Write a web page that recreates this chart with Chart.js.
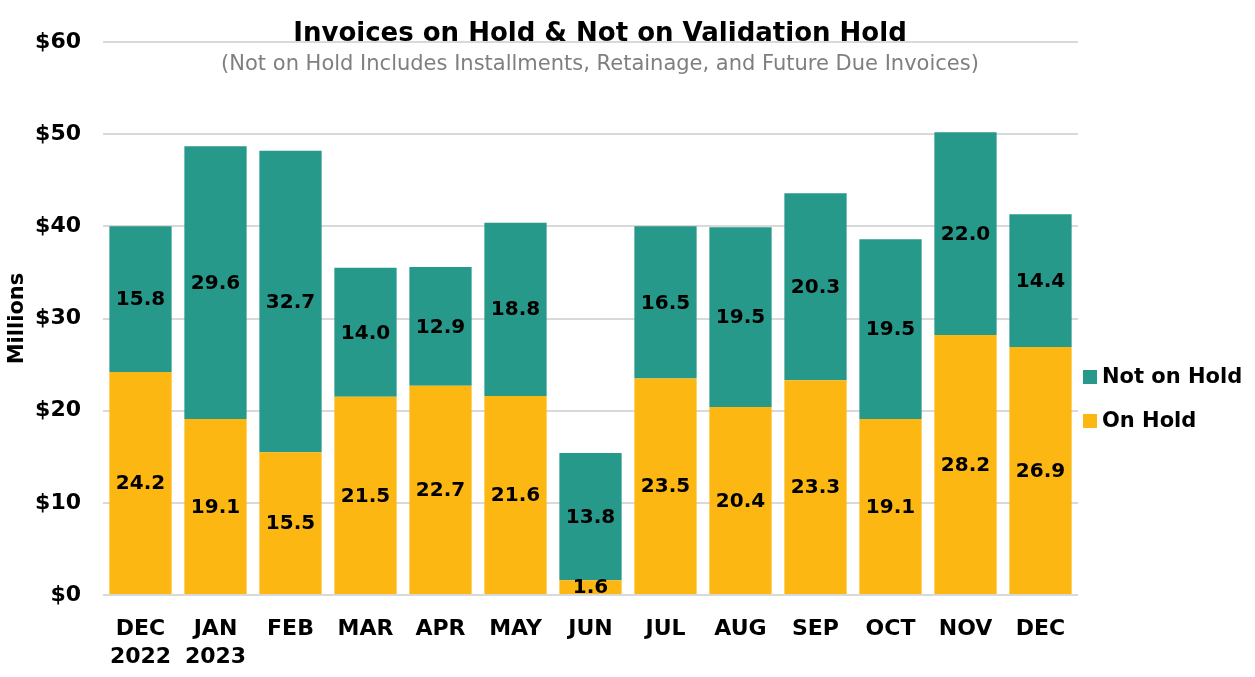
<!DOCTYPE html>
<html>
<head>
<meta charset="utf-8">
<script src="https://cdn.jsdelivr.net/npm/chart.js@4.4.1/dist/chart.umd.min.js"></script>
<style>
  html, body { margin: 0; padding: 0; background: #fff; }
  #wrap { width: 1255px; height: 677px; }
</style>
</head>
<body>
<div id="wrap"><canvas id="c"></canvas></div>
<script>
const months = [['DEC', '2022'], ['JAN', '2023'], 'FEB', 'MAR', 'APR', 'MAY', 'JUN', 'JUL', 'AUG', 'SEP', 'OCT', 'NOV', 'DEC'];
const onHold = [24.2, 19.1, 15.5, 21.5, 22.7, 21.6, 1.6, 23.5, 20.4, 23.3, 19.1, 28.2, 26.9];
const notOnHold = [15.8, 29.6, 32.7, 14.0, 12.9, 18.8, 13.8, 16.5, 19.5, 20.3, 19.5, 22.0, 14.4];
const yMax = 60;
const yStep = 10;

const FONT = '"DejaVu Sans", sans-serif';
const GREEN = '#26998a';
const YELLOW = '#fdb713';

// titles sit over the top of the plot, so draw them by hand
const titlePlugin = {
  id: 'titles',
  afterDraw(chart) {
    const ctx = chart.ctx;
    ctx.save();
    ctx.textAlign = 'center';
    ctx.textBaseline = 'middle';
    ctx.fillStyle = '#000';
    ctx.font = 'bold 26px ' + FONT;
    ctx.fillText('Invoices on Hold & Not on Validation Hold', 600, 34);
    ctx.fillStyle = '#7f7f7f';
    ctx.font = '21px ' + FONT;
    ctx.fillText('(Not on Hold Includes Installments, Retainage, and Future Due Invoices)', 600, 65);
    ctx.restore();
  }
};

// legend on the right, lower than centre, top item = last dataset
const legendPlugin = {
  id: 'sideLegend',
  afterDraw(chart) {
    const ctx = chart.ctx;
    const x = chart.chartArea.right + 5;
    const items = chart.data.datasets.slice().reverse();
    ctx.save();
    ctx.textAlign = 'left';
    ctx.textBaseline = 'middle';
    ctx.font = 'bold 21px ' + FONT;
    items.forEach((ds, i) => {
      const y = 377 + i * 44;
      ctx.fillStyle = ds.backgroundColor;
      ctx.fillRect(x, y - 7, 14, 14);
      ctx.fillStyle = '#000';
      ctx.fillText(ds.label, x + 19, y + 1);
    });
    ctx.restore();
  }
};

// value in the middle of each segment
const valueLabels = {
  id: 'valueLabels',
  afterDatasetsDraw(chart) {
    const ctx = chart.ctx;
    ctx.save();
    ctx.textAlign = 'center';
    ctx.textBaseline = 'middle';
    ctx.fillStyle = '#000';
    ctx.font = 'bold 20px ' + FONT;
    chart.data.datasets.forEach((ds, i) => {
      chart.getDatasetMeta(i).data.forEach((bar, j) => {
        const mid = (bar.y + bar.base) / 2;
        ctx.fillText(ds.data[j].toFixed(1), bar.x, mid + 1);
      });
    });
    ctx.restore();
  }
};

new Chart(document.getElementById('c'), {
  type: 'bar',
  data: {
    labels: months,
    datasets: [
      {label: 'On Hold', data: onHold, backgroundColor: YELLOW},
      {label: 'Not on Hold', data: notOnHold, backgroundColor: GREEN}
    ]
  },
  options: {
    responsive: true,
    maintainAspectRatio: false,
    animation: false,
    events: [],
    layout: {padding: {top: 42, right: 177, left: 0, bottom: 0}},
    datasets: {bar: {categoryPercentage: 0.83, barPercentage: 1}},
    scales: {
      x: {
        stacked: true,
        grid: {display: false},
        border: {display: false},
        ticks: {color: '#000', font: {family: FONT, size: 22, weight: 'bold', lineHeight: 1.25}, padding: 13, maxRotation: 0},
        afterFit: (s) => { s.height = 82; }
      },
      y: {
        stacked: true,
        min: 0,
        max: yMax,
        ticks: {stepSize: yStep, color: '#000', padding: 22, font: {family: FONT, size: 22, weight: 'bold'},
          callback: (v) => '$' + v},
        grid: {color: '#d9d9d9', lineWidth: 2, drawTicks: false},
        border: {display: false},
        title: {display: true, text: 'Millions', color: '#000', font: {family: FONT, size: 21, weight: 'bold'}, padding: {top: 5}},
        afterFit: (s) => { s.width = 103; }
      }
    },
    plugins: {
      title: {display: false},
      tooltip: {enabled: false},
      legend: {display: false}
    }
  },
  plugins: [titlePlugin, valueLabels, legendPlugin]
});
</script>
</body>
</html>
